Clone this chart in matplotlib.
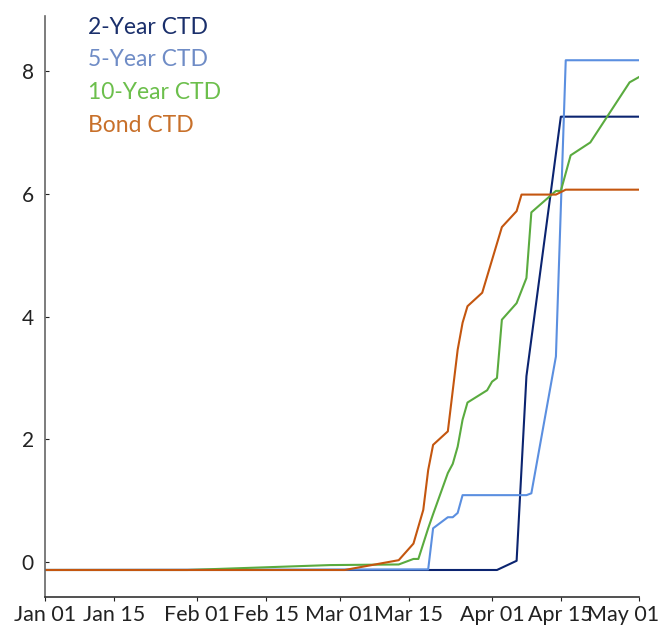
import numpy as np
import pandas as pd
import matplotlib
matplotlib.use("Agg")
import matplotlib.pyplot as plt
import matplotlib.dates as mdates
from matplotlib.transforms import ScaledTranslation

plt.rcParams['font.family'] = ['Lato', 'DejaVu Sans']

# (year 2020)
two_dates = ['2020-01-01', '2020-04-02', '2020-04-06', '2020-04-08', '2020-04-15', '2020-05-01']
two_vals = [-0.13, -0.13, 0.02, 3.03, 7.26, 7.26]

five_dates = ['2020-01-01', '2020-03-19', '2020-03-20', '2020-03-23', '2020-03-24', '2020-03-25',
              '2020-03-26', '2020-04-08', '2020-04-09', '2020-04-14', '2020-04-16', '2020-05-01']
five_vals = [-0.13, -0.12, 0.55, 0.73, 0.73, 0.80, 1.09, 1.09, 1.12, 3.35, 8.18, 8.18]

ten_dates = ['2020-01-01', '2020-01-30', '2020-02-28', '2020-03-13', '2020-03-16', '2020-03-17',
             '2020-03-19', '2020-03-20', '2020-03-23', '2020-03-24', '2020-03-25', '2020-03-26',
             '2020-03-27', '2020-03-31', '2020-04-01', '2020-04-02', '2020-04-03', '2020-04-06',
             '2020-04-08', '2020-04-09', '2020-04-14', '2020-04-15', '2020-04-17', '2020-04-21',
             '2020-04-29', '2020-05-01']
ten_vals = [-0.13, -0.13, -0.05, -0.04, 0.05, 0.05, 0.55, 0.78, 1.45, 1.60, 1.88, 2.32,
            2.60, 2.80, 2.94, 3.00, 3.95, 4.22, 4.63, 5.70, 6.05, 6.05, 6.63, 6.84,
            7.82, 7.91]

bond_dates = ['2020-01-01', '2020-03-02', '2020-03-13', '2020-03-16', '2020-03-18', '2020-03-19',
              '2020-03-20', '2020-03-23', '2020-03-25', '2020-03-26', '2020-03-27', '2020-03-30',
              '2020-04-03', '2020-04-06', '2020-04-07', '2020-04-14', '2020-04-16', '2020-05-01']
bond_vals = [-0.13, -0.13, 0.03, 0.30, 0.85, 1.50, 1.91, 2.13, 3.46, 3.90, 4.17, 4.39,
             5.46, 5.72, 5.99, 5.99, 6.07, 6.07]

tick_dates = ['2020-01-01', '2020-01-15', '2020-02-01', '2020-02-15', '2020-03-01',
              '2020-03-15', '2020-04-01', '2020-04-15', '2020-05-01']

names = ['2-Year CTD', '5-Year CTD', '10-Year CTD', 'Bond CTD']
line_colors = ['#0b2470', '#5b8fe0', '#5aab3f', '#c4560f']
text_colors = ['#1a2f6b', '#6f8cc6', '#6cbf4c', '#c8702a']

fig = plt.figure(figsize=(6.59, 6.28), dpi=100)
ax = fig.add_axes([0.0683, 0.0494, 0.902, 0.925])

series = [(two_dates, two_vals), (five_dates, five_vals), (ten_dates, ten_vals), (bond_dates, bond_vals)]
for (d, v), c in zip(series, line_colors):
    ax.plot(pd.to_datetime(d), v, color=c, linewidth=1.5)

ax.set_xlim(pd.Timestamp('2020-01-01'), pd.Timestamp('2020-05-01'))
ax.set_ylim(-0.57, 8.9)
ax.set_yticks([0, 2, 4, 6, 8])

ax.set_xticks(pd.to_datetime(tick_dates))
ax.xaxis.set_major_formatter(mdates.DateFormatter('%b %d'))

ax.spines['top'].set_visible(False)
ax.spines['right'].set_visible(False)
ax.spines['left'].set_color('#666666')
ax.spines['bottom'].set_color('#333333')
ax.spines['left'].set_linewidth(1.2)
ax.spines['bottom'].set_linewidth(1.2)

ax.tick_params(axis='y', direction='in', length=3, pad=8, labelsize=15, colors='#222222')
ax.tick_params(axis='x', direction='out', length=3, pad=3, labelsize=15.5, colors='#222222')

# last date label is pushed left so it stays on the canvas
last = ax.xaxis.get_major_ticks()[-1].label1
last.set_transform(last.get_transform() + ScaledTranslation(-0.16, 0, fig.dpi_scale_trans))

for i, (n, c) in enumerate(zip(names, text_colors)):
    ax.text(0.072, 0.981 - i * 0.0563, n, transform=ax.transAxes, color=c,
            fontsize=16.5, va='center', ha='left')

plt.savefig("out.png", dpi=100)
